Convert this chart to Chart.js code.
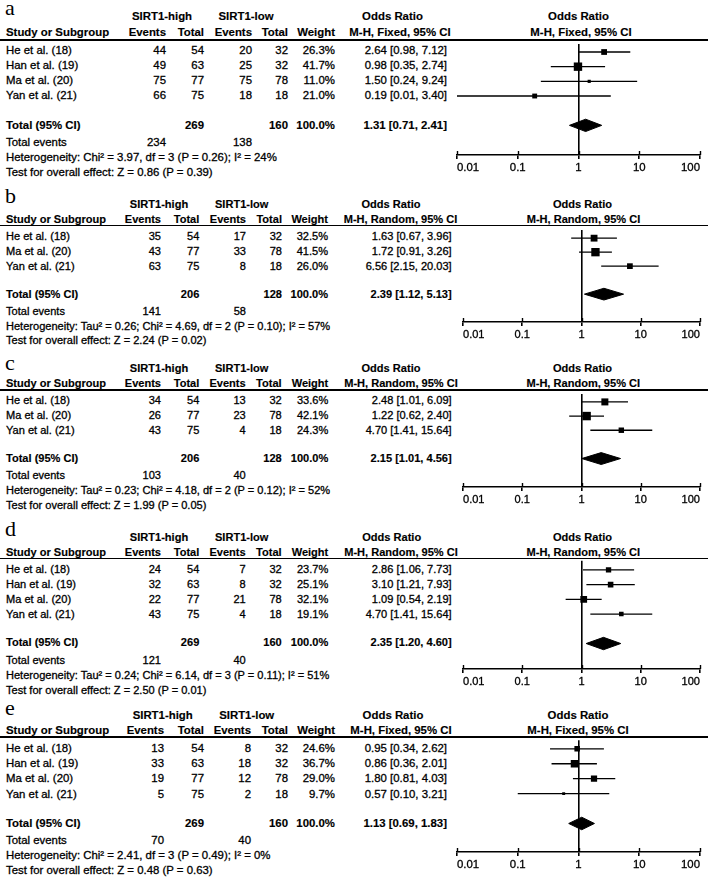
<!DOCTYPE html>
<html lang="en">
<head>
<meta charset="UTF-8">
<title>SIRT1 forest plots</title>
<script src="https://cdn.jsdelivr.net/npm/chart.js"></script>
<style>
    * { margin: 0; padding: 0; box-sizing: border-box; }
    body {
        width: 708px;
        height: 886px;
        overflow: hidden;
        position: relative;
        background: #fff;
        color: #000;
        font-family: 'Liberation Sans', Arial, sans-serif;
    }
    .t {
        position: absolute;
        white-space: nowrap;
        line-height: 13px;
        height: 13px;
        -webkit-text-stroke: 0.3px #000;
    }
    .b { font-weight: bold; -webkit-text-stroke: 0.15px #000; }
    .letter {
        position: absolute;
        font-family: 'Liberation Serif', 'Times New Roman', serif;
        font-size: 22px;
        line-height: 22px;
    }
    .rule { position: absolute; left: 0; width: 708px; height: 1.5px; background: #000; }
    canvas { position: absolute; }
</style>
</head>
<body>
<script>
// ---- data ----
const panelLetters = ['a', 'b', 'c', 'd', 'e'];

const studiesA = ['He et al. (18)', 'Han et al. (19)', 'Ma et al. (20)', 'Yan et al. (21)'];
const evHighA = [44, 49, 75, 66];
const totHighA = [54, 63, 77, 75];
const evLowA = [20, 25, 75, 18];
const totLowA = [32, 32, 78, 18];
const weightA = [26.3, 41.7, 11.0, 21.0];
const orA = [2.64, 0.98, 1.50, 0.19];
const ciLowA = [0.98, 0.35, 0.24, 0.01];
const ciHighA = [7.12, 2.74, 9.24, 3.40];

const studiesB = ['He et al. (18)', 'Ma et al. (20)', 'Yan et al. (21)'];
const evHighB = [35, 43, 63];
const totHighB = [54, 77, 75];
const evLowB = [17, 33, 8];
const totLowB = [32, 78, 18];
const weightB = [32.5, 41.5, 26.0];
const orB = [1.63, 1.72, 6.56];
const ciLowB = [0.67, 0.91, 2.15];
const ciHighB = [3.96, 3.26, 20.03];

const studiesC = ['He et al. (18)', 'Ma et al. (20)', 'Yan et al. (21)'];
const evHighC = [34, 26, 43];
const totHighC = [54, 77, 75];
const evLowC = [13, 23, 4];
const totLowC = [32, 78, 18];
const weightC = [33.6, 42.1, 24.3];
const orC = [2.48, 1.22, 4.70];
const ciLowC = [1.01, 0.62, 1.41];
const ciHighC = [6.09, 2.40, 15.64];

const studiesD = ['He et al. (18)', 'Han et al. (19)', 'Ma et al. (20)', 'Yan et al. (21)'];
const evHighD = [24, 32, 22, 43];
const totHighD = [54, 63, 77, 75];
const evLowD = [7, 8, 21, 4];
const totLowD = [32, 32, 78, 18];
const weightD = [23.7, 25.1, 32.1, 19.1];
const orD = [2.86, 3.10, 1.09, 4.70];
const ciLowD = [1.06, 1.21, 0.54, 1.41];
const ciHighD = [7.73, 7.93, 2.19, 15.64];

const studiesE = ['He et al. (18)', 'Han et al. (19)', 'Ma et al. (20)', 'Yan et al. (21)'];
const evHighE = [13, 33, 19, 5];
const totHighE = [54, 63, 77, 75];
const evLowE = [8, 18, 12, 2];
const totLowE = [32, 32, 78, 18];
const weightE = [24.6, 36.7, 29.0, 9.7];
const orE = [0.95, 0.86, 1.80, 0.57];
const ciLowE = [0.34, 0.36, 0.81, 0.10];
const ciHighE = [2.62, 2.01, 4.03, 3.21];

// pooled results, one entry per panel a..e
const pooledOR = [1.31, 2.39, 2.15, 2.35, 1.13];
const pooledLow = [0.71, 1.12, 1.01, 1.20, 0.69];
const pooledHigh = [2.41, 5.13, 4.56, 4.60, 1.83];
const sumHigh = [269, 206, 206, 269, 269];
const sumLow = [160, 128, 128, 160, 160];
const eventsHigh = [234, 141, 103, 121, 70];
const eventsLow = [138, 58, 40, 40, 40];
const methods = ['M-H, Fixed, 95% CI', 'M-H, Random, 95% CI', 'M-H, Random, 95% CI', 'M-H, Random, 95% CI', 'M-H, Fixed, 95% CI'];
const hetText = [
    'Heterogeneity: Chi\u00b2 = 3.97, df = 3 (P = 0.26); I\u00b2 = 24%',
    'Heterogeneity: Tau\u00b2 = 0.26; Chi\u00b2 = 4.69, df = 2 (P = 0.10); I\u00b2 = 57%',
    'Heterogeneity: Tau\u00b2 = 0.23; Chi\u00b2 = 4.18, df = 2 (P = 0.12); I\u00b2 = 52%',
    'Heterogeneity: Tau\u00b2 = 0.24; Chi\u00b2 = 6.14, df = 3 (P = 0.11); I\u00b2 = 51%',
    'Heterogeneity: Chi\u00b2 = 2.41, df = 3 (P = 0.49); I\u00b2 = 0%'
];
const effectText = [
    'Test for overall effect: Z = 0.86 (P = 0.39)',
    'Test for overall effect: Z = 2.24 (P = 0.02)',
    'Test for overall effect: Z = 1.99 (P = 0.05)',
    'Test for overall effect: Z = 2.50 (P = 0.01)',
    'Test for overall effect: Z = 0.48 (P = 0.63)'
];
const axisTicks = [0.01, 0.1, 1, 10, 100];
const axisLabels = ['0.01', '0.1', '1', '10', '100'];

const groups = [
    {studies: studiesA, evH: evHighA, totH: totHighA, evL: evLowA, totL: totLowA, w: weightA, or: orA, lo: ciLowA, hi: ciHighA},
    {studies: studiesB, evH: evHighB, totH: totHighB, evL: evLowB, totL: totLowB, w: weightB, or: orB, lo: ciLowB, hi: ciHighB},
    {studies: studiesC, evH: evHighC, totH: totHighC, evL: evLowC, totL: totLowC, w: weightC, or: orC, lo: ciLowC, hi: ciHighC},
    {studies: studiesD, evH: evHighD, totH: totHighD, evL: evLowD, totL: totLowD, w: weightD, or: orD, lo: ciLowD, hi: ciHighD},
    {studies: studiesE, evH: evHighE, totH: totHighE, evL: evLowE, totL: totLowE, w: weightE, or: orE, lo: ciLowE, hi: ciHighE}
];

// ---- page layout (pixel positions of each panel) ----
const layout = [
    {size: 11.4, letterY: 15, hdr1: 16.7, hdr2: 32.3, line: 40, row0: 50.5, step: 15.15, total: 125, events: 142.3, het: 157, test: 172.3,
     cols: [166, 204, 252, 288, 335], orRight: 447, highC: 162, lowC: 246, orHdr1: 392.5, orHdr2: 400, fHdr1: 578.5, fHdr2: 581,
     axisL: 457, axisY: 155, yMin: 0.45, yMax: 8.02},
    {size: 11.05, letterY: 203, hdr1: 204.3, hdr2: 219.3, line: 225.7, row0: 236.7, step: 14.7, total: 294, events: 311, het: 326, test: 340.7,
     cols: [161, 199.3, 246, 282, 328], orRight: 451.7, highC: 159, lowC: 241.7, orHdr1: 391, orHdr2: 400.5, fHdr1: 582.5, fHdr2: 583.5,
     axisL: 463, axisY: 321.7, yMin: 0.41, yMax: 6.99},
    {size: 11.05, letterY: 370.7, hdr1: 368.3, hdr2: 383.3, line: 390, row0: 400.7, step: 15, total: 458.3, events: 475.7, het: 490.7, test: 505.7,
     cols: [161, 199.3, 245.7, 281.7, 328.3], orRight: 451.7, highC: 159, lowC: 241.7, orHdr1: 391, orHdr2: 401, fHdr1: 582.5, fHdr2: 583.3,
     axisL: 463, axisY: 487.3, yMin: 0.44, yMax: 7.01},
    {size: 11.05, letterY: 536, hdr1: 537.3, hdr2: 552.7, line: 558.3, row0: 569.3, step: 15.2, total: 642.7, events: 660, het: 675, test: 690,
     cols: [161, 199.3, 245.7, 281.7, 328.3], orRight: 451.7, highC: 159, lowC: 241.7, orHdr1: 391.7, orHdr2: 401, fHdr1: 582.5, fHdr2: 583.3,
     axisL: 463, axisY: 669.3, yMin: 0.38, yMax: 7.73},
    {size: 11.4, letterY: 715, hdr1: 715, hdr2: 730, line: 737, row0: 748.3, step: 15.33, total: 823.3, events: 840, het: 855, test: 870,
     cols: [164, 204, 251, 288, 335], orRight: 447, highC: 162.7, lowC: 246.7, orHdr1: 393, orHdr2: 401, fHdr1: 578, fHdr2: 578,
     axisL: 457, axisY: 851.7, yMin: 0.43, yMax: 7.91}
];

const CANVAS_LEFT = 420;
const CANVAS_W = 292;
const AXIS_RIGHT = 700;

function put(text, x, y, size, align, bold) {
    const d = document.createElement('div');
    d.className = 't' + (bold ? ' b' : '');
    d.style.fontSize = size + 'px';
    d.style.top = (y - 6.5) + 'px';
    if (align === 'right') {
        d.style.left = (x - 140) + 'px';
        d.style.width = '140px';
        d.style.textAlign = 'right';
    } else if (align === 'center') {
        d.style.left = (x - 120) + 'px';
        d.style.width = '240px';
        d.style.textAlign = 'center';
    } else {
        d.style.left = x + 'px';
    }
    d.textContent = text;
    document.body.appendChild(d);
}

function ciLabel(v, lo, hi) {
    return v.toFixed(2) + ' [' + lo.toFixed(2) + ', ' + hi.toFixed(2) + ']';
}

// upward half of the tick marks + tick labels (first one left-aligned, last one right-aligned)
const orAxis = {
    id: 'orAxis',
    afterDraw(chart, args, opts) {
        const sx = chart.scales.x;
        const c = chart.ctx;
        const yb = chart.chartArea.bottom;
        c.save();
        c.strokeStyle = '#000';
        c.lineWidth = 1.4;
        axisTicks.forEach(v => {
            const px = Math.round(sx.getPixelForValue(v)) + 0.5;
            c.beginPath();
            c.moveTo(px, yb - 4);
            c.lineTo(px, yb);
            c.stroke();
        });
        c.fillStyle = '#000';
        c.font = opts.size + "px 'Liberation Sans', Arial, sans-serif";
        c.textBaseline = 'alphabetic';
        c.lineWidth = 0.3;
        const base = yb + 11.7 + 0.358 * opts.size;
        axisTicks.forEach((v, i) => {
            c.textAlign = i === 0 ? 'left' : (i === axisTicks.length - 1 ? 'right' : 'center');
            const px = sx.getPixelForValue(v);
            c.fillText(axisLabels[i], px, base);
            c.strokeText(axisLabels[i], px, base);
        });
        c.restore();
    }
};

function drawPanel(k) {
    const L = layout[k];
    const g = groups[k];
    const s = L.size;

    // letter
    const lt = document.createElement('div');
    lt.className = 'letter';
    lt.style.left = '5px';
    lt.style.top = (L.letterY - 18.4) + 'px';
    lt.textContent = panelLetters[k];
    document.body.appendChild(lt);

    // headers
    put('SIRT1-high', L.highC, L.hdr1, s, 'center', true);
    put('SIRT1-low', L.lowC, L.hdr1, s, 'center', true);
    put('Odds Ratio', L.orHdr1, L.hdr1, s, 'center', true);
    put('Odds Ratio', L.fHdr1, L.hdr1, s, 'center', true);
    put('Study or Subgroup', 6, L.hdr2, s, 'left', true);
    const colNames = ['Events', 'Total', 'Events', 'Total', 'Weight'];
    colNames.forEach((c, i) => put(c, L.cols[i], L.hdr2, s, 'right', true));
    put(methods[k], L.orHdr2, L.hdr2, s, 'center', true);
    put(methods[k], L.fHdr2, L.hdr2, s, 'center', true);

    const rule = document.createElement('div');
    rule.className = 'rule';
    rule.style.top = (L.line - 0.75) + 'px';
    document.body.appendChild(rule);

    // study rows
    g.studies.forEach((name, i) => {
        const y = L.row0 + i * L.step;
        put(name, 6, y, s, 'left', false);
        put(String(g.evH[i]), L.cols[0], y, s, 'right', false);
        put(String(g.totH[i]), L.cols[1], y, s, 'right', false);
        put(String(g.evL[i]), L.cols[2], y, s, 'right', false);
        put(String(g.totL[i]), L.cols[3], y, s, 'right', false);
        put(g.w[i].toFixed(1) + '%', L.cols[4], y, s, 'right', false);
        put(ciLabel(g.or[i], g.lo[i], g.hi[i]), L.orRight, y, s, 'right', false);
    });

    // totals
    put('Total (95% CI)', 6, L.total, s, 'left', true);
    put(String(sumHigh[k]), L.cols[1], L.total, s, 'right', true);
    put(String(sumLow[k]), L.cols[3], L.total, s, 'right', true);
    put('100.0%', L.cols[4], L.total, s, 'right', true);
    put(ciLabel(pooledOR[k], pooledLow[k], pooledHigh[k]), L.orRight, L.total, s, 'right', true);
    put('Total events', 6, L.events, s, 'left', false);
    put(String(eventsHigh[k]), L.cols[0], L.events, s, 'right', false);
    put(String(eventsLow[k]), L.cols[2], L.events, s, 'right', false);
    put(hetText[k], 6, L.het, s, 'left', false);
    put(effectText[k], 6, L.test, s, 'left', false);

    // forest plot
    const cv = document.createElement('canvas');
    const h = Math.round((L.axisY - L.line) + 2 + 20);
    cv.width = CANVAS_W;
    cv.height = h;
    cv.style.left = CANVAS_LEFT + 'px';
    cv.style.top = (L.line - 2) + 'px';
    document.body.appendChild(cv);

    const datasets = [];
    g.or.forEach((v, i) => {
        datasets.push({
            data: [{x: g.lo[i], y: i + 1}, {x: g.hi[i], y: i + 1}],
            showLine: true,
            borderColor: '#000',
            borderWidth: 1.3,
            pointRadius: 0
        });
    });
    datasets.push({
        data: g.or.map((v, i) => ({x: v, y: i + 1})),
        pointStyle: 'rect',
        pointRadius: g.w.map(w => (1.3 + 0.17 * w) / Math.SQRT2),
        backgroundColor: '#000',
        borderWidth: 0
    });
    const tr = g.or.length + 2;
    const half = 0.42;
    datasets.push({
        data: [
            {x: pooledLow[k], y: tr},
            {x: pooledOR[k], y: tr - half},
            {x: pooledHigh[k], y: tr},
            {x: pooledOR[k], y: tr + half},
            {x: pooledLow[k], y: tr}
        ],
        showLine: true,
        fill: 'shape',
        backgroundColor: '#000',
        borderColor: '#000',
        borderWidth: 1,
        pointRadius: 0
    });

    new Chart(cv, {
        type: 'scatter',
        data: {datasets: datasets},
        options: {
            responsive: false,
            animation: false,
            events: [],
            layout: {padding: {left: L.axisL - CANVAS_LEFT, right: CANVAS_LEFT + CANVAS_W - AXIS_RIGHT, top: 2, bottom: 0}},
            plugins: {legend: {display: false}, tooltip: {enabled: false}, orAxis: {size: s}},
            scales: {
                x: {
                    type: 'logarithmic',
                    min: 0.01,
                    max: 100,
                    afterBuildTicks: (scale) => { scale.ticks = axisTicks.map(v => ({value: v})); },
                    afterFit: (scale) => {
                        scale.height = 20;
                        scale.paddingLeft = 0;
                        scale.paddingRight = 0;
                    },
                    ticks: {display: false},
                    grid: {
                        color: (c) => (c.tick && c.tick.value === 1) ? '#000' : 'rgba(0,0,0,0)',
                        lineWidth: 1.6,
                        tickColor: '#000',
                        tickLength: 4,
                        drawOnChartArea: true
                    },
                    border: {display: true, color: '#000', width: 1.5}
                },
                y: {
                    type: 'linear',
                    reverse: true,
                    min: L.yMin,
                    max: L.yMax,
                    display: false
                }
            }
        },
        plugins: [orAxis]
    });
}

for (let k = 0; k < 5; k++) drawPanel(k);
</script>
</body>
</html>
